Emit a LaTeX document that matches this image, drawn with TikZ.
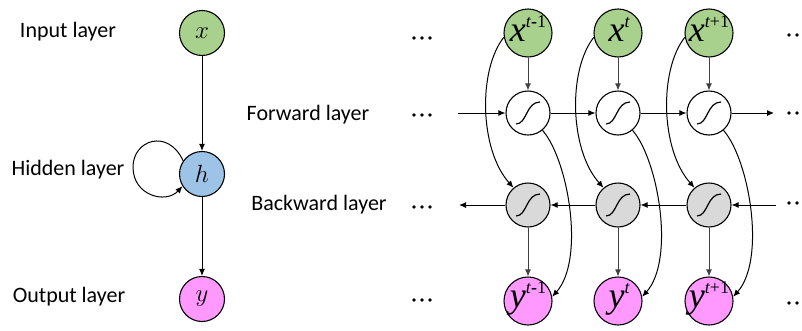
\documentclass[tikz,border=0pt]{standalone}
\usepackage{fontspec}
\setmainfont{Carlito}
\newfontfamily\tnr{Liberation Serif}
\usetikzlibrary{arrows.meta}
\definecolor{inGreen}{HTML}{A9D18E}
\definecolor{hidBlue}{HTML}{9DC3E6}
\definecolor{outPink}{HTML}{FF99FF}
\definecolor{bwGray}{HTML}{D9D9D9}
\tikzset{
  unit/.style={circle,draw,line width=1.1pt,inner sep=0pt,minimum size=#1},
  layerlbl/.style={font=\fontsize{22}{22}\selectfont},
  bigsym/.style={anchor=base,inner sep=0pt,font=\tnr\fontsize{36}{36}\selectfont\itshape},
  smallsym/.style={inner sep=0pt,font=\fontsize{28}{28}\selectfont},
  conn/.style={line width=1pt,-{Latex[length=7pt,width=6pt]}},
  vconn/.style={conn,draw=black!75},
  sig/.pic={\draw[line width=1.2pt] (-12,11) .. controls (-1,11) and (-2,-11) .. (12,-11);},
  ellipsis/.pic={\foreach \k in {0,8,16}{\fill (\k,0) circle (1.8pt);}}
}
\newcommand{\supx}[1]{\raisebox{14pt}{\fontsize{18}{18}\selectfont #1}}
\begin{document}
\begin{tikzpicture}[x=1pt,y=-1pt]
\useasboundingbox (0,0) rectangle (802,330);

% ---- folded recurrent network ----
\node[unit=45pt,fill=inGreen] (x) at (202,33) {};
\node[unit=45pt,fill=hidBlue] (h) at (202,174) {};
\node[unit=45pt,fill=outPink] (y) at (202,299) {};
\node[smallsym] at (x) {$x$};
\node[smallsym] at (h) {$h$};
\node[smallsym] at (y) {$y$};

\node[layerlbl] (lin) at (68,32) {Input layer};
\node[layerlbl] (lhid) at (68,170) {Hidden layer};
\node[layerlbl] (lout) at (69,297) {Output layer};

\draw[conn] (x) -- (h);
\draw[conn] (h) -- (y);
\draw[conn] (h.145) .. controls (168,128) and (133,140) .. (133,167)
  .. controls (133,196) and (166,204) .. (h.212);

% ---- unfolded bidirectional network ----
\node[layerlbl] (lfw) at (308,115) {Forward layer};
\node[layerlbl] (lbw) at (319,205) {Backward layer};

\foreach \i/\cx in {1/528,2/618,3/709}{
  \node[unit=48pt,fill=inGreen] (X\i) at (\cx,33) {};
  \node[unit=44pt,fill=white] (F\i) at (\cx,113) {};
  \node[unit=44pt,fill=bwGray] (B\i) at (\cx,205) {};
  \node[unit=48pt,fill=outPink] (Y\i) at (\cx,301) {};
  \pic at (F\i) {sig};
  \pic at (B\i) {sig};
  \draw[vconn] (X\i) -- (F\i);
  \draw[vconn] (B\i) -- (Y\i);
}

\node[bigsym] at (528,41) {x\supx{t\upshape\textbf{-}1}};
\node[bigsym] at (619,41) {x\supx{t}};
\node[bigsym] at (709,41) {x\supx{t\upshape+1}};
\node[bigsym] at (528,307) {y\supx{t\upshape\textbf{-}1}};
\node[bigsym] at (619,307) {y\supx{t}};
\node[bigsym] at (709,307) {y\supx{t\upshape+1}};

% forward chain
\coordinate (fin) at (458,113);
\coordinate (fout) at (774,113);
\draw[conn] (fin) -- (F1);
\draw[conn] (F1) -- (F2);
\draw[conn] (F2) -- (F3);
\draw[conn] (F3) -- (fout);

% backward chain
\coordinate (bin) at (776,205);
\coordinate (bout) at (459,205);
\draw[conn] (bin) -- (B3);
\draw[conn] (B3) -- (B2);
\draw[conn] (B2) -- (B1);
\draw[conn] (B1) -- (bout);

% input to backward, forward to output
\foreach \i/\cx in {1/528,2/618,3/709}{
  \draw[conn] (X\i.190) .. controls ([xshift=-26pt,yshift=-33pt]X\i.190) and ([xshift=-34pt,yshift=38pt]B\i.130) .. (B\i.130);
  \draw[conn] (F\i.-50) .. controls ([xshift=26pt,yshift=-30pt]F\i.-50) and ([xshift=33pt,yshift=37pt]Y\i.10) .. (Y\i.10);
}

% continuation dots
\foreach \yy in {38,115,207,300}{
  \pic at (414,\yy) {ellipsis};
}
\foreach \yy in {35,113,203,303}{
  \pic at (789,\yy) {ellipsis};
}
\end{tikzpicture}
\end{document}
